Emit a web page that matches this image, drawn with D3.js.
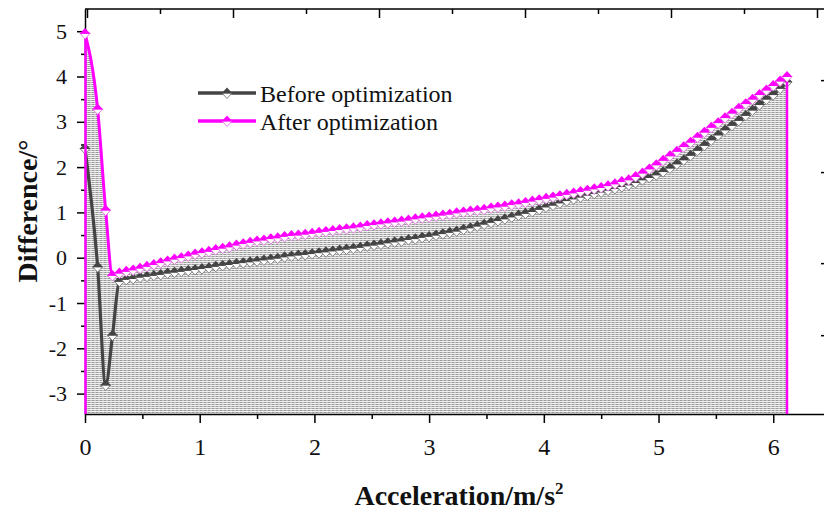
<!DOCTYPE html>
<html>
<head>
<meta charset="utf-8">
<script src="https://cdn.jsdelivr.net/npm/d3@7"></script>
<style>
  body { margin: 0; background: #fff; }
  svg { display: block; }
  text { font-family: "Liberation Serif", "Times New Roman", serif; fill: #111; }
</style>
</head>
<body>
<div id="chart"></div>
<script>
// acceleration values (m/s^2) shared by both series
var accel = [0, 0.11, 0.18, 0.24,
    0.30, 0.36, 0.42, 0.48, 0.54, 0.60, 0.66, 0.72, 0.78, 0.84,
    0.90, 0.96, 1.02, 1.08, 1.14, 1.20, 1.26, 1.32, 1.38, 1.44,
    1.50, 1.56, 1.62, 1.68, 1.74, 1.80, 1.86, 1.92, 1.98, 2.04,
    2.10, 2.16, 2.22, 2.28, 2.34, 2.40, 2.46, 2.52, 2.58, 2.64,
    2.70, 2.76, 2.82, 2.88, 2.94, 3.00, 3.06, 3.12, 3.18, 3.24,
    3.30, 3.36, 3.42, 3.48, 3.54, 3.60, 3.66, 3.72, 3.78, 3.84,
    3.90, 3.96, 4.02, 4.08, 4.14, 4.20, 4.26, 4.32, 4.38, 4.44,
    4.50, 4.56, 4.62, 4.68, 4.74, 4.80, 4.86, 4.92, 4.98, 5.04,
    5.10, 5.16, 5.22, 5.28, 5.34, 5.40, 5.46, 5.52, 5.58, 5.64,
    5.70, 5.76, 5.82, 5.88, 5.94, 6.00, 6.06, 6.12];

var before = [2.41, -0.20, -2.81, -1.71,
    -0.52, -0.48, -0.46, -0.43, -0.41, -0.39, -0.37, -0.34, -0.32, -0.30,
    -0.28, -0.26, -0.24, -0.22, -0.19, -0.17, -0.15, -0.13, -0.11, -0.09,
    -0.07, -0.05, -0.03, -0.01, 0.02, 0.04, 0.06, 0.07, 0.09, 0.11,
    0.13, 0.15, 0.17, 0.19, 0.21, 0.23, 0.26, 0.28, 0.30, 0.33,
    0.35, 0.37, 0.40, 0.42, 0.45, 0.47, 0.50, 0.53, 0.56, 0.59,
    0.63, 0.66, 0.70, 0.74, 0.78, 0.82, 0.86, 0.90, 0.94, 0.98,
    1.02, 1.07, 1.12, 1.16, 1.21, 1.26, 1.30, 1.34, 1.38, 1.42,
    1.45, 1.49, 1.53, 1.57, 1.61, 1.66, 1.72, 1.77, 1.83, 1.90,
    1.98, 2.07, 2.16, 2.26, 2.37, 2.48, 2.60, 2.71, 2.82, 2.92,
    3.03, 3.14, 3.26, 3.38, 3.50, 3.60, 3.74, 3.88];

var after = [4.95, 3.28, 1.05, -0.39,
    -0.34, -0.30, -0.27, -0.23, -0.19, -0.15, -0.11, -0.07, -0.03, 0.00,
    0.04, 0.08, 0.11, 0.14, 0.18, 0.21, 0.24, 0.28, 0.31, 0.34,
    0.37, 0.39, 0.42, 0.44, 0.47, 0.49, 0.50, 0.52, 0.54, 0.56,
    0.58, 0.60, 0.62, 0.64, 0.66, 0.68, 0.71, 0.73, 0.75, 0.77,
    0.79, 0.81, 0.83, 0.86, 0.88, 0.90, 0.92, 0.94, 0.96, 0.99,
    1.01, 1.03, 1.05, 1.07, 1.10, 1.12, 1.14, 1.17, 1.19, 1.22,
    1.25, 1.28, 1.31, 1.34, 1.37, 1.40, 1.43, 1.46, 1.49, 1.52,
    1.55, 1.59, 1.63, 1.68, 1.72, 1.79, 1.87, 1.96, 2.05, 2.15,
    2.25, 2.35, 2.45, 2.55, 2.66, 2.77, 2.88, 2.98, 3.09, 3.19,
    3.30, 3.40, 3.50, 3.60, 3.70, 3.80, 3.90, 4.00];

var seriesNames = ["Before optimization", "After optimization"];
var xTicks = [0, 1, 2, 3, 4, 5, 6];
var xMinor = [0.5, 1.5, 2.5, 3.5, 4.5, 5.5];
var yTicks = [-3, -2, -1, 0, 1, 2, 3, 4, 5];
var yMinor = [-2.5, -1.5, -0.5, 0.5, 1.5, 2.5, 3.5, 4.5];
// stray ticks of the hidden second layer on the top and right frame
var topTicks = [0, 1, 2, 3, 4, 5, 6, 7, 8, 9, 10];
var rightTicks = [3.92, 1.89, -0.12, -1.71];

var width = 824, height = 513;

var x = d3.scaleLinear().domain([0, 6.46]).range([85, 826]);
var y = d3.scaleLinear().domain([-3.45, 5.49]).range([414, 9]);
var xTop = d3.scaleLinear().domain([0, 10]).range([87, 817]);

var svg = d3.select("#chart").append("svg")
    .attr("width", width)
    .attr("height", height);

svg.append("rect").attr("width", width).attr("height", height).attr("fill", "#fff");

var defs = svg.append("defs");
var pat = defs.append("pattern")
    .attr("id", "hatch")
    .attr("patternUnits", "userSpaceOnUse")
    .attr("width", 4).attr("height", 2);
pat.append("rect").attr("width", 4).attr("height", 2).attr("fill", "#f0f0f0");
pat.append("rect").attr("width", 2).attr("height", 1).attr("fill", "#9a9a9a");
pat.append("rect").attr("x", 2).attr("width", 2).attr("height", 1).attr("fill", "#bdbdbd");

var pts = accel.map(function (a, i) {
    return {x: a, b: before[i], a: after[i]};
});

// filled area under "after" curve
var area = d3.area()
    .x(function (d) { return x(d.x); })
    .y0(y(-3.45))
    .y1(function (d) { return y(d.a); })
    .curve(d3.curveMonotoneX);

svg.append("path")
    .datum(pts)
    .attr("d", area)
    .attr("fill", "url(#hatch)");

var fmt = function (d) { return String(d); };

// axes
var axisG = svg.append("g");

var xAxis = axisG.append("g")
    .attr("transform", "translate(0," + y.range()[0] + ")")
    .call(d3.axisBottom(x).tickValues(xTicks).tickSize(9).tickSizeOuter(0).tickPadding(15).tickFormat(fmt));
xAxis.selectAll("text").style("font-size", "24px").attr("fill", "#111");

axisG.append("g")
    .attr("transform", "translate(0," + y.range()[0] + ")")
    .call(d3.axisBottom(x).tickValues(xMinor).tickSize(5).tickSizeOuter(0).tickFormat(""))
    .select(".domain").remove();

var yAxis = axisG.append("g")
    .attr("transform", "translate(" + x(0) + ",0)")
    .call(d3.axisLeft(y).tickValues(yTicks).tickSize(8).tickSizeOuter(0).tickPadding(10).tickFormat(fmt));
yAxis.selectAll("text").style("font-size", "22px").attr("fill", "#111");

axisG.append("g")
    .attr("transform", "translate(" + x(0) + ",0)")
    .call(d3.axisLeft(y).tickValues(yMinor).tickSize(4).tickSizeOuter(0).tickFormat(""))
    .select(".domain").remove();

// top frame line with its own little ticks
var topAxis = axisG.append("g")
    .attr("transform", "translate(0," + y.range()[1] + ")")
    .call(d3.axisBottom(xTop).tickValues(topTicks).tickSizeOuter(0).tickFormat(""));
topAxis.select(".domain").remove();
topAxis.selectAll(".tick line").attr("y2", function (d) { return d % 2 === 0 ? 9 : 5; });
axisG.append("line")
    .attr("x1", x(0)).attr("x2", width)
    .attr("y1", y.range()[1]).attr("y2", y.range()[1])
    .attr("stroke", "#000").attr("stroke-width", 1.5);

// right ticks (frame itself sits just off the picture)
axisG.append("g")
    .attr("transform", "translate(826,0)")
    .call(d3.axisLeft(y).tickValues(rightTicks).tickSize(0).tickFormat(""))
    .call(function (g) {
        g.select(".domain").remove();
        g.selectAll(".tick line").attr("x2", -5);
    });

axisG.selectAll(".domain").attr("stroke-width", 1.5);
axisG.selectAll(".tick line").attr("stroke-width", 1.5);

// lines
var lineBefore = d3.line()
    .x(function (d) { return x(d.x); })
    .y(function (d) { return y(d.b); })
    .curve(d3.curveMonotoneX);

var lineAfter = d3.line()
    .x(function (d) { return x(d.x); })
    .y(function (d) { return y(d.a); })
    .curve(d3.curveMonotoneX);

var colBefore = "#444444", colAfter = "#ff00ff";

// half-filled diamond: coloured top, white bottom
function drawMarkers(g, cx, cy, color, lower) {
    g.append("path")
        .attr("d", "M" + (cx - 5) + "," + cy + "L" + (cx + 5) + "," + cy + "L" + cx + "," + (cy + 5.5) + "Z")
        .attr("fill", "#fff").attr("stroke", lower).attr("stroke-width", 0.9);
    g.append("path")
        .attr("d", "M" + (cx - 5.5) + "," + (cy + 0.4) + "L" + cx + "," + (cy - 5.5) + "L" + (cx + 5.5) + "," + (cy + 0.4) + "Z")
        .attr("fill", color);
}

svg.append("path")
    .datum(pts)
    .attr("d", lineBefore)
    .attr("fill", "none")
    .attr("stroke", colBefore)
    .attr("stroke-width", 3.2);

var mB = svg.append("g");
pts.forEach(function (d) { drawMarkers(mB, x(d.x), y(d.b), colBefore, "#7a7a7a"); });

svg.append("path")
    .datum(pts)
    .attr("d", lineAfter)
    .attr("fill", "none")
    .attr("stroke", colAfter)
    .attr("stroke-width", 3);

// vertical closing edges of the filled "after" curve
var first = pts[0], last = pts[pts.length - 1];
svg.append("line")
    .attr("x1", x(first.x) + 0.5).attr("x2", x(first.x) + 0.5)
    .attr("y1", y(first.a)).attr("y2", y.range()[0])
    .attr("stroke", colAfter).attr("stroke-width", 2.5);
svg.append("line")
    .attr("x1", x(last.x)).attr("x2", x(last.x))
    .attr("y1", y(last.a)).attr("y2", y.range()[0])
    .attr("stroke", colAfter).attr("stroke-width", 2.5);

var mA = svg.append("g");
pts.forEach(function (d) { drawMarkers(mA, x(d.x), y(d.a), colAfter, "#e070e0"); });

// legend
var legend = svg.append("g");
var legendY = [93, 121];
var legendCols = [colBefore, colAfter];
var legendLower = ["#7a7a7a", "#e070e0"];
seriesNames.forEach(function (name, i) {
    legend.append("line")
        .attr("x1", 198).attr("x2", 256)
        .attr("y1", legendY[i]).attr("y2", legendY[i])
        .attr("stroke", legendCols[i]).attr("stroke-width", 3.5);
    drawMarkers(legend, 227, legendY[i], legendCols[i], legendLower[i]);
    legend.append("text")
        .attr("x", 260).attr("y", legendY[i] + 9)
        .style("font-size", "24px")
        .text(name);
});

// axis titles
var xt = svg.append("text")
    .attr("x", 459).attr("y", 505)
    .attr("text-anchor", "middle")
    .style("font-size", "28px").style("font-weight", "bold");
xt.append("tspan").text("Acceleration/m/s");
xt.append("tspan").attr("dy", -11).style("font-size", "17px").text("2");

svg.append("text")
    .attr("transform", "translate(37,211) rotate(-90)")
    .attr("text-anchor", "middle")
    .style("font-size", "28px").style("font-weight", "bold")
    .text("Difference/°");
</script>
</body>
</html>
